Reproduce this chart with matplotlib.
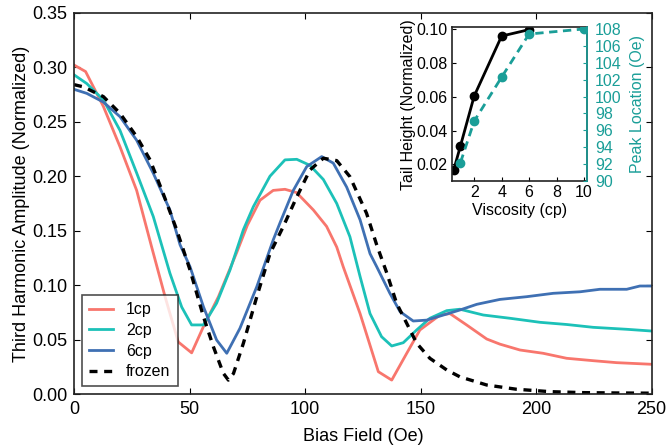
import matplotlib
matplotlib.use("Agg")
import matplotlib.pyplot as plt

plt.rcParams['font.family'] = ['Liberation Sans', 'DejaVu Sans']

# ---- main chart data ----
x_1cp = [0, 5, 12.7, 19.9, 27.1, 33.6, 39.4, 45.1, 50.9, 56, 62.5, 70.4, 75, 80.5, 86.2, 91.3, 96.3,
         103.6, 109.3, 113.7, 116.5, 123.8, 131.7, 137.5, 144, 149.7, 158.4, 162.7, 169.9, 178.6,
         184.3, 193, 203, 213.2, 224.7, 234.8, 250]
y_1cp = [0.302, 0.296, 0.264, 0.227, 0.187, 0.135, 0.0895, 0.048, 0.038, 0.062, 0.0895, 0.13, 0.155,
         0.178, 0.187, 0.188, 0.185, 0.169, 0.154, 0.135, 0.117, 0.074, 0.0207, 0.013, 0.0376, 0.059,
         0.0727, 0.074, 0.0636, 0.0507, 0.046, 0.0406, 0.0376, 0.033, 0.0308, 0.029, 0.0275]

x_2cp = [0, 5.5, 12.7, 19.9, 27.1, 34.3, 41.5, 46.6, 50.9, 56, 61.7, 67.5, 73.3, 77.6, 84.8, 91.3,
         96.4, 102.1, 107.9, 113.7, 119.4, 123.8, 128.1, 133.1, 137.5, 142.5, 148.3, 154, 161.3,
         167, 177.1, 188.7, 201.7, 213.2, 224.7, 239.2, 250]
y_2cp = [0.293, 0.285, 0.27, 0.242, 0.203, 0.163, 0.111, 0.080, 0.0636, 0.0636, 0.0835, 0.114, 0.151,
         0.172, 0.2, 0.215, 0.2155, 0.21, 0.197, 0.175, 0.1445, 0.108, 0.074, 0.0528, 0.0443, 0.0473,
         0.059, 0.0697, 0.0767, 0.078, 0.0727, 0.0697, 0.066, 0.064, 0.0614, 0.0596, 0.058]

x_6cp = [0, 5.5, 12.7, 19.9, 27.1, 34.3, 41.5, 45.9, 50.2, 56, 61.7, 66.1, 71.8, 79.1, 86.2, 89.1,
         94.9, 100.7, 107.2, 112.2, 118, 123.8, 128.1, 131, 136.7, 141.1, 146.8, 152.6, 161.3, 167,
         174.3, 184.3, 195.9, 207.4, 219, 227.6, 239.2, 244.9, 250]
y_6cp = [0.2797, 0.276, 0.268, 0.2546, 0.233, 0.2027, 0.169, 0.137, 0.117, 0.0803, 0.0498, 0.0376,
         0.0605, 0.0987, 0.1415, 0.157, 0.187, 0.2088, 0.218, 0.212, 0.19, 0.16, 0.129, 0.117, 0.0926,
         0.0758, 0.0672, 0.068, 0.0736, 0.0773, 0.0825, 0.087, 0.0895, 0.0926, 0.094, 0.0963, 0.0963,
         0.0993, 0.0993]

x_frozen = [0, 4, 12.7, 19.9, 27.1, 32.9, 38.6, 44.4, 50.2, 56, 60.3, 64.6, 66.8, 69, 73.3, 79.1,
            84.8, 90.6, 96.4, 102.1, 107.9, 113.7, 119.4, 126.6, 131, 135.4, 139.6, 144, 148.3, 154,
            161.3, 167, 178.6, 191.5, 206, 220.4, 235, 250]
y_frozen = [0.284, 0.282, 0.273, 0.2577, 0.2363, 0.215, 0.184, 0.151, 0.114, 0.0712, 0.0437, 0.0193,
            0.013, 0.019, 0.0468, 0.0895, 0.129, 0.154, 0.181, 0.2057, 0.2165, 0.2143, 0.1996, 0.166,
            0.137, 0.111, 0.0835, 0.065, 0.0468, 0.033, 0.0223, 0.016, 0.0085, 0.0046, 0.0024, 0.0015,
            0.0012, 0.001]

series_labels = ['1cp', '2cp', '6cp', 'frozen']

# ---- inset data ----
visc_tail = [0.5, 1, 2, 4, 6]
tail_height = [0.0165, 0.031, 0.0605, 0.096, 0.0998]
visc_peak = [1, 2, 4, 6, 10]
peak_loc = [92.2, 97.1, 102.3, 107.4, 108.0]

x_ticks = [0, 50, 100, 150, 200, 250]
y_ticks = [0, 0.05, 0.10, 0.15, 0.20, 0.25, 0.30, 0.35]
inset_xticks = [2, 4, 6, 8, 10]
inset_yticks = [0.02, 0.04, 0.06, 0.08, 0.10]
inset_y2ticks = [90, 92, 94, 96, 98, 100, 102, 104, 106, 108]

c_red = '#F8766D'
c_teal = '#1CC1B8'
c_blue = '#3F70B3'
c_inset = '#1A9E98'

fig = plt.figure(figsize=(6.67, 4.45), dpi=100)
ax = fig.add_axes([0.111, 0.114, 0.866, 0.8575])
ax.plot(x_1cp, y_1cp, color=c_red, lw=2.0, label=series_labels[0])
ax.plot(x_2cp, y_2cp, color=c_teal, lw=2.0, label=series_labels[1])
ax.plot(x_6cp, y_6cp, color=c_blue, lw=2.0, label=series_labels[2])
ax.plot(x_frozen, y_frozen, color='black', lw=2.4, dashes=(2.4, 2.0), label=series_labels[3])
ax.set_xlim(0, 250)
ax.set_ylim(0, 0.35)
ax.set_xticks(x_ticks)
ax.set_yticks(y_ticks)
ax.set_yticklabels([f'{v:.2f}' for v in y_ticks])
ax.tick_params(direction='in', top=True, right=True, labelsize=13, length=4, width=0.8, pad=5)
for s in ax.spines.values():
    s.set_linewidth(1.2)
    s.set_color('#222222')
ax.set_xlabel('Bias Field (Oe)', fontsize=13, labelpad=7)
ax.set_ylabel('Third Harmonic Amplitude (Normalized)', fontsize=13, labelpad=1)
leg = ax.legend(loc='lower left', bbox_to_anchor=(0.0, 0.0), fontsize=11.5, frameon=True,
                fancybox=False, edgecolor='#222222', handlelength=1.5, handletextpad=0.8,
                borderpad=0.45, labelspacing=0.35, borderaxespad=0.5)
leg.get_frame().set_linewidth(1.2)

# inset
axi = fig.add_axes([0.677, 0.593, 0.2026, 0.3457])
axi.plot(visc_tail, tail_height, color='black', lw=2.0, marker='o', ms=6)
axi.set_xlim(0.35, 10.2)
axi.set_ylim(0.0101, 0.1012)
axi.set_xticks(inset_xticks)
axi.set_yticks(inset_yticks)
axi.set_yticklabels([f'{v:.2f}' for v in inset_yticks])
axi.tick_params(direction='in', labelsize=11.5, length=3, pad=3)
axi.set_xlabel('Viscosity (cp)', fontsize=11.5, labelpad=2)
axi.set_ylabel('Tail Height (Normalized)', fontsize=11.5, labelpad=0)
for s in axi.spines.values():
    s.set_linewidth(1.2)
    s.set_color('#222222')
ax2 = axi.twinx()
ax2.plot(visc_peak, peak_loc, color=c_inset, lw=2.0, dashes=(3, 2), marker='o', ms=6)
ax2.set_ylim(90, 108.2)
ax2.set_yticks(inset_y2ticks)
ax2.tick_params(direction='in', labelsize=11.5, length=3, pad=6, colors=c_inset)
ax2.set_ylabel('Peak Location (Oe)', fontsize=11.5, color=c_inset, labelpad=6)
ax2.spines['right'].set_color(c_inset)
ax2.spines['right'].set_linewidth(1.2)
for k in ['top', 'left', 'bottom']:
    ax2.spines[k].set_visible(False)

fig.savefig('out.png', dpi=100)
